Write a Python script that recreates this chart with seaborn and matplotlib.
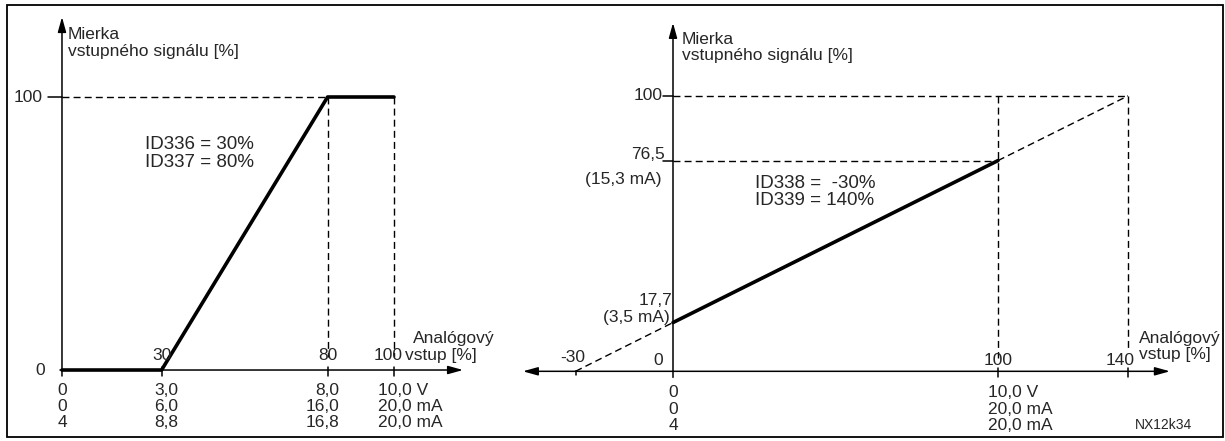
import matplotlib
matplotlib.use('Agg')
import matplotlib.pyplot as plt
from matplotlib.patches import Rectangle
import seaborn as sns

# left diagram: input scaling 30 % .. 80 %
left_x = [0, 30, 80, 100]
left_y = [0, 0, 100, 100]
left_ticks = [30, 80, 100]
left_tick_labels = ['30', '80', '100']
left_id_text = 'ID336 = 30%\nID337 = 80%'

# right diagram: input scaling -30 % .. 140 %
right_x = [0, 100]
right_y = [17.7, 76.5]
right_low_x = [-30, 0]
right_low_y = [0, 17.7]
right_high_x = [100, 140]
right_high_y = [76.5, 100]
right_ticks = [-30, 100, 140]
right_tick_labels = ['-30', '100', '140']
right_id_text = 'ID338 =  -30%\nID339 = 140%'

y_label = 'Mierka\nvstupného signálu [%]'
x_label_1 = 'Analógový'
x_label_2 = 'vstup [%]'

# signal values under the x axis
left_sig_0 = '0\n0\n4'
left_sig_30 = '3,0\n6,0\n8,8'
left_sig_80 = '8,0\n16,0\n16,8'
left_sig_100 = '10,0 V\n20,0 mA\n20,0 mA'
right_sig_0 = '0\n0\n4'
right_sig_100 = '10,0 V\n20,0 mA\n20,0 mA'

sns.set_style('white')
plt.rcParams['font.family'] = ['Liberation Sans', 'DejaVu Sans']
plt.rcParams['font.size'] = 12.5

fig = plt.figure(figsize=(12.25, 4.41), dpi=100)
ax_l = fig.add_axes([0, 0, 490 / 1225, 1])
ax_r = fig.add_axes([495 / 1225, 0, 730 / 1225, 1])
ax_l.set_xlim(-18.67, 128.92)
ax_l.set_ylim(-26.0, 135.53)
ax_r.set_xlim(-54.77, 169.85)
ax_r.set_ylim(-25.3, 134.8)
for ax in (ax_l, ax_r):
    ax.set_axis_off()

K = 'black'
DASH = (0, (5, 3))
ARROW = dict(arrowstyle='-|>,head_length=0.9,head_width=0.25', lw=1.1, color=K,
             shrinkA=0, shrinkB=0, mutation_scale=10)
ID_SIZE = 13.5
SIG_LS = 1.1


def off(ax, text, xy, dx, dy, **kw):
    ax.annotate(text, xy=xy, xytext=(dx, dy), textcoords='offset pixels', **kw)


# ---------- left diagram ----------
ax = ax_l
ax.annotate('', xy=(0, 129.3), xytext=(0, -2.2), arrowprops=ARROW)
ax.annotate('', xy=(120.8, 0), xytext=(-0.6, 0), arrowprops=ARROW)
ax.plot([-4.2, 0], [100, 100], color=K, lw=1.1)
ax.plot([0, left_x[2]], [100, 100], color=K, lw=1, linestyle=DASH)
for t in left_ticks:
    ax.plot([t, t], [1.1, -2.2], color=K, lw=1.1)
for t in left_ticks[1:]:
    ax.plot([t, t], [100, 4.8], color=K, lw=1, linestyle=DASH)
sns.lineplot(x=left_x, y=left_y, ax=ax, color=K, lw=2.6)

ax.text(1.8, 119.8, y_label, ha='left', va='center', linespacing=1.13)
ax.text(25.0, 79.3, left_id_text, ha='left', va='center', linespacing=1.03,
        fontsize=ID_SIZE)
off(ax, '0', (0, 0), -17, 0, ha='right', va='center')
off(ax, '100', (0, 100), -19, 0, ha='right', va='center')
off(ax, left_tick_labels[0], (30, 0), 0, 15, ha='center', va='center')
off(ax, left_tick_labels[1], (80, 0), 0, 15, ha='center', va='center')
off(ax, left_tick_labels[2], (100, 0), -6, 15, ha='center', va='center')
off(ax, x_label_1, (100, 0), 19, 32, ha='left', va='center')
off(ax, x_label_2, (100, 0), 11, 15, ha='left', va='center')
off(ax, left_sig_0, (0, 0), 0, -13, ha='center', va='top', linespacing=SIG_LS)
off(ax, left_sig_30, (30, 0), 5, -13, ha='center', va='top', linespacing=SIG_LS)
off(ax, left_sig_80, (80, 0), 12, -13, ha='right', va='top', linespacing=SIG_LS)
off(ax, left_sig_100, (100, 0), -16, -13, ha='left', va='top', linespacing=SIG_LS)

# ---------- right diagram ----------
ax = ax_r
ax.annotate('', xy=(0, 126.5), xytext=(0, -2.2), arrowprops=ARROW)
ax.annotate('', xy=(152.9, 0), xytext=(0, 0), arrowprops=ARROW)
ax.annotate('', xy=(-46.2, 0), xytext=(0, 0), arrowprops=ARROW)
ax.plot([-3, 0], [100, 100], color=K, lw=1.1)
ax.plot([-3, 0], [76.5, 76.5], color=K, lw=1.1)
ax.plot([0, right_high_x[1]], [100, 100], color=K, lw=1, linestyle=DASH)
ax.plot([0, right_x[1]], [76.5, 76.5], color=K, lw=1, linestyle=DASH)
ax.plot([right_x[1]] * 2, [100, 5], color=K, lw=1, linestyle=DASH)
ax.plot([right_high_x[1]] * 2, [100, 8], color=K, lw=1, linestyle=DASH)
ax.plot([-30, -30], [0, -1.5], color=K, lw=1.1)
for t in right_ticks[1:]:
    ax.plot([t, t], [1.1, -2.2], color=K, lw=1.1)
sns.lineplot(x=right_low_x, y=right_low_y, ax=ax, color=K, lw=1, linestyle=DASH)
sns.lineplot(x=right_high_x, y=right_high_y, ax=ax, color=K, lw=1, linestyle=DASH)
sns.lineplot(x=right_x, y=right_y, ax=ax, color=K, lw=2.6)

ax.text(2.7, 117.5, y_label, ha='left', va='center', linespacing=1.13)
ax.text(25.2, 65.0, right_id_text, ha='left', va='center', linespacing=1.03,
        fontsize=ID_SIZE)
off(ax, '100', (0, 100), -10, 0, ha='right', va='center')
off(ax, '76,5', (0, 76.5), -8, 6, ha='right', va='center')
off(ax, '(15,3 mA)', (0, 76.5), -11, -19, ha='right', va='center')
off(ax, '17,7', (0, 17.7), -1, 22, ha='right', va='center')
off(ax, '(3,5 mA)', (0, 17.7), -3, 5, ha='right', va='center')
off(ax, '0', (0, 0), -15, 11, ha='center', va='center')
off(ax, right_tick_labels[0], (-30, 0), -3, 14, ha='center', va='center')
off(ax, right_tick_labels[1], (100, 0), 0, 11, ha='center', va='center')
off(ax, right_tick_labels[2], (140, 0), -8, 11, ha='center', va='center')
off(ax, x_label_1, (140, 0), 11, 33, ha='left', va='center')
off(ax, x_label_2, (140, 0), 11, 17, ha='left', va='center')
off(ax, right_sig_0, (0, 0), 0, -14, ha='center', va='top', linespacing=SIG_LS)
off(ax, right_sig_100, (100, 0), -10, -14, ha='left', va='top', linespacing=SIG_LS)

fig.text(1135 / 1225, 16 / 441, 'NX12k34', fontsize=10, ha='left', va='center')
fig.add_artist(Rectangle((7 / 1225, 4 / 441), 1216 / 1225, 432 / 441,
                         transform=fig.transFigure, fill=False, lw=1.3, ec=K))

fig.savefig('out.png', dpi=100)
